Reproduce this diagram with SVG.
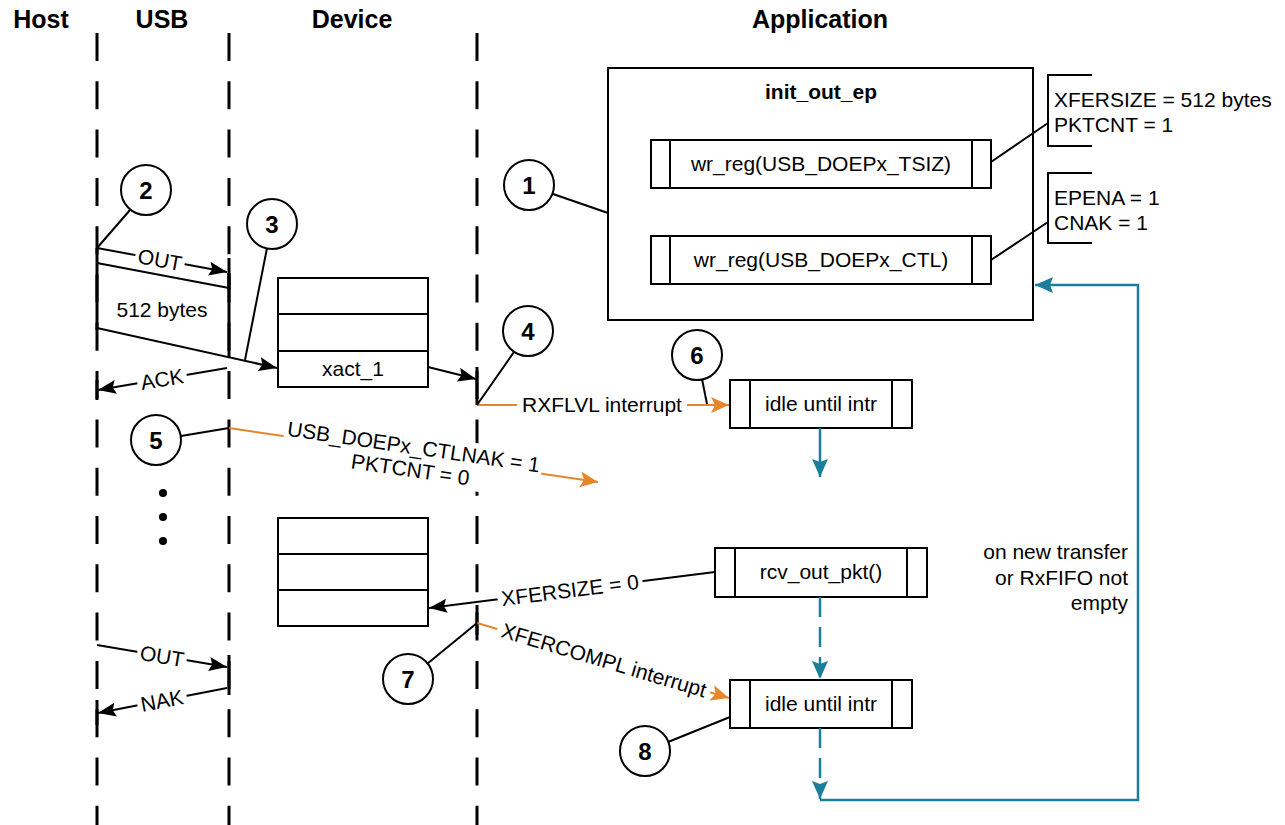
<svg xmlns="http://www.w3.org/2000/svg" width="1285" height="825" viewBox="0 0 1285 825">
<style>
text{font-family:"Liberation Sans",Arial,sans-serif;fill:#000}
.hdr{font-size:25px;font-weight:bold;text-anchor:middle}
.num{font-size:24px;font-weight:bold;text-anchor:middle}
.t{font-size:21px}
.c{text-anchor:middle}
.life{stroke:#000;stroke-width:3;stroke-dasharray:28 20.3;fill:none}
.solid{stroke:#000;stroke-width:3;fill:none}
.box{fill:#fff;stroke:#000;stroke-width:2}
.ln{stroke:#000;stroke-width:2;fill:none}
.or{stroke:#e5862c;stroke-width:2;fill:none}
.tl{stroke:#1a7f9a;stroke-width:2.5;fill:none}
.dash{stroke-dasharray:20 10}
.circ{fill:#fff;stroke:#000;stroke-width:2}
.bg{fill:#fff}
</style>
<defs>
<marker id="ab" markerUnits="userSpaceOnUse" markerWidth="19" markerHeight="15" refX="18" refY="7" orient="auto"><path d="M0,0 L18,7 L0,14 L3,7 z" fill="#000"/></marker>
<marker id="ao" markerUnits="userSpaceOnUse" markerWidth="19" markerHeight="17" refX="18" refY="8" orient="auto"><path d="M0,0 L18,8 L0,16 L4,8 z" fill="#e5862c"/></marker>
<marker id="at" markerUnits="userSpaceOnUse" markerWidth="19" markerHeight="17" refX="18" refY="8" orient="auto"><path d="M0,0 L18,8 L0,16 L3,8 z" fill="#1a7f9a"/></marker>
</defs>
<rect width="1285" height="825" fill="#fff"/>

<g id="headers">
<text class="hdr" x="41" y="28">Host</text>
<text class="hdr" x="162" y="28">USB</text>
<text class="hdr" x="352" y="28">Device</text>
<text class="hdr" x="820" y="28">Application</text>
</g>

<g id="lifelines">
<line class="life" x1="97" y1="33" x2="97" y2="825"/>
<line class="life" x1="229" y1="33" x2="229" y2="825"/>
<line class="life" x1="477" y1="33" x2="477" y2="825"/>
<line class="solid" x1="97" y1="380" x2="97" y2="400"/>
<line class="solid" x1="97" y1="700" x2="97" y2="725"/>
<line class="solid" x1="229" y1="258" x2="229" y2="290"/>
<line class="solid" x1="229" y1="655" x2="229" y2="695"/>
<line class="solid" x1="477" y1="367" x2="477" y2="405"/>
<line class="solid" x1="477" y1="605" x2="477" y2="635"/>
</g>

<g id="init_out_ep">
<rect class="box" x="608" y="68" width="425" height="252"/>
<text class="t c" x="821" y="99" font-weight="bold">init_out_ep</text>
</g>
<g id="wr_tsiz">
<rect class="box" x="651" y="140" width="340" height="48"/>
<line class="ln" x1="670" y1="140" x2="670" y2="188"/>
<line class="ln" x1="972" y1="140" x2="972" y2="188"/>
<text class="t c" x="821" y="171">wr_reg(USB_DOEPx_TSIZ)</text>
</g>
<g id="wr_ctl">
<rect class="box" x="651" y="236" width="340" height="48"/>
<line class="ln" x1="670" y1="236" x2="670" y2="284"/>
<line class="ln" x1="972" y1="236" x2="972" y2="284"/>
<text class="t c" x="821" y="267">wr_reg(USB_DOEPx_CTL)</text>
</g>
<g id="note_tsiz">
<path class="ln" d="M1092,75 H1048 V146 H1092"/>
<text class="t" x="1054" y="107">XFERSIZE = 512 bytes</text>
<text class="t" x="1054" y="132">PKTCNT = 1</text>
</g>
<g id="note_ctl">
<path class="ln" d="M1092,173 H1048 V243 H1092"/>
<text class="t" x="1054" y="205">EPENA = 1</text>
<text class="t" x="1054" y="230">CNAK = 1</text>
</g>

<g id="fifo1">
<rect class="box" x="278" y="278" width="150" height="109"/>
<line class="ln" x1="278" y1="314" x2="428" y2="314"/>
<line class="ln" x1="278" y1="351" x2="428" y2="351"/>
<text class="t c" x="353" y="376">xact_1</text>
</g>
<g id="fifo2">
<rect class="box" x="278" y="518" width="150" height="108"/>
<line class="ln" x1="278" y1="554" x2="428" y2="554"/>
<line class="ln" x1="278" y1="590" x2="428" y2="590"/>
</g>

<g id="idle1">
<rect class="box" x="730" y="380" width="182" height="48"/>
<line class="ln" x1="750" y1="380" x2="750" y2="428"/>
<line class="ln" x1="892" y1="380" x2="892" y2="428"/>
<text class="t c" x="821" y="411">idle until intr</text>
</g>
<g id="rcv">
<rect class="box" x="715" y="548" width="212" height="49"/>
<line class="ln" x1="735" y1="548" x2="735" y2="597"/>
<line class="ln" x1="907" y1="548" x2="907" y2="597"/>
<text class="t c" x="821" y="579">rcv_out_pkt()</text>
</g>
<g id="idle2">
<rect class="box" x="730" y="680" width="182" height="48"/>
<line class="ln" x1="750" y1="680" x2="750" y2="728"/>
<line class="ln" x1="892" y1="680" x2="892" y2="728"/>
<text class="t c" x="821" y="711">idle until intr</text>
</g>

<g id="packet">
<path class="ln" d="M97,263 L229,288 M97,263 V328 M229,288 V357"/>
<line class="solid" x1="97" y1="248" x2="97" y2="330"/>
<line class="solid" x1="229" y1="273" x2="229" y2="358"/>
<text class="t c" x="162" y="317">512 bytes</text>
</g>

<g id="connectors">
<line class="ln" x1="97" y1="248" x2="227" y2="272" marker-end="url(#ab)"/>
<g transform="translate(160,259.6) rotate(10.5)"><rect class="bg" x="-25" y="-11" width="50" height="22"/><text class="t c" y="7.5">OUT</text></g>
<line class="ln" x1="97" y1="328" x2="277" y2="368" marker-end="url(#ab)"/>
<line class="ln" x1="428" y1="367" x2="476" y2="379" marker-end="url(#ab)"/>
<line class="ln" x1="227" y1="368" x2="98" y2="390" marker-end="url(#ab)"/>
<g transform="translate(162,379) rotate(-9.6)"><rect class="bg" x="-25" y="-11" width="50" height="22"/><text class="t c" y="7.5">ACK</text></g>

<line class="or" x1="477" y1="405" x2="729" y2="405" marker-end="url(#ao)"/>
<rect class="bg" x="517" y="393" width="170" height="24"/>
<text class="t c" x="602" y="412">RXFLVL interrupt</text>

<line class="tl" x1="820" y1="428" x2="820" y2="477" marker-end="url(#at)"/>

<line class="or" x1="229" y1="428" x2="598" y2="482" marker-end="url(#ao)"/>
<g transform="translate(412,458) rotate(8.28)"><rect class="bg" x="-130" y="-24" width="260" height="48"/>
<text class="t c" y="-4">USB_DOEPx_CTLNAK = 1</text>
<text class="t c" y="19">PKTCNT = 0</text></g>

<line class="ln" x1="715" y1="572" x2="429" y2="608" marker-end="url(#ab)"/>
<g transform="translate(570,590) rotate(-7.15)"><rect class="bg" x="-73" y="-12" width="146" height="24"/><text class="t c" y="7.5">XFERSIZE = 0</text></g>

<line class="or" x1="477" y1="623" x2="729" y2="698" marker-end="url(#ao)"/>
<g transform="translate(604,660) rotate(16.6)"><rect class="bg" x="-111" y="-12" width="222" height="24"/><text class="t c" y="7.5">XFERCOMPL interrupt</text></g>

<line class="tl dash" x1="820" y1="597" x2="820" y2="679" marker-end="url(#at)"/>
<line class="tl dash" x1="820" y1="728" x2="820" y2="799" marker-end="url(#at)"/>
<path class="tl" d="M820,800 H1138 V285 H1035" marker-end="url(#at)"/>

<line class="ln" x1="97" y1="645" x2="227" y2="667" marker-end="url(#ab)"/>
<g transform="translate(162,656) rotate(9.6)"><rect class="bg" x="-25" y="-11" width="50" height="22"/><text class="t c" y="7.5">OUT</text></g>
<line class="ln" x1="227" y1="688" x2="98" y2="713" marker-end="url(#ab)"/>
<g transform="translate(162,700.5) rotate(-10.9)"><rect class="bg" x="-25" y="-11" width="50" height="22"/><text class="t c" y="7.5">NAK</text></g>

<line class="ln" x1="991" y1="162" x2="1048" y2="123"/>
<line class="ln" x1="991" y1="260" x2="1048" y2="222"/>

<line class="ln" x1="553" y1="194" x2="608" y2="213"/>
<line class="ln" x1="130" y1="210" x2="97" y2="248"/>
<line class="ln" x1="267" y1="248" x2="245" y2="360"/>
<line class="ln" x1="514" y1="352" x2="477" y2="405"/>
<line class="ln" x1="181" y1="436" x2="229" y2="428"/>
<line class="ln" x1="702" y1="379" x2="707" y2="404"/>
<line class="ln" x1="427" y1="664" x2="477" y2="623"/>
<line class="ln" x1="668" y1="742" x2="730" y2="717"/>

<text class="t" x="1128" y="559" text-anchor="end">on new transfer</text>
<text class="t" x="1128" y="585" text-anchor="end">or RxFIFO not</text>
<text class="t" x="1128" y="610" text-anchor="end">empty</text>
</g>

<g id="ellipsis">
<circle cx="163" cy="493" r="4"/>
<circle cx="163" cy="517" r="4"/>
<circle cx="163" cy="541" r="4"/>
</g>

<g id="step1"><circle class="circ" cx="529" cy="185" r="25"/><text class="num" x="529" y="193.5">1</text></g>
<g id="step2"><circle class="circ" cx="146" cy="190" r="25"/><text class="num" x="146" y="198.5">2</text></g>
<g id="step3"><circle class="circ" cx="272" cy="224" r="25"/><text class="num" x="272" y="232.5">3</text></g>
<g id="step4"><circle class="circ" cx="528" cy="331" r="25"/><text class="num" x="528" y="339.5">4</text></g>
<g id="step5"><circle class="circ" cx="156" cy="440" r="25"/><text class="num" x="156" y="448.5">5</text></g>
<g id="step6"><circle class="circ" cx="697" cy="355" r="25"/><text class="num" x="697" y="363.5">6</text></g>
<g id="step7"><circle class="circ" cx="408" cy="679" r="25"/><text class="num" x="408" y="687.5">7</text></g>
<g id="step8"><circle class="circ" cx="645" cy="751" r="25"/><text class="num" x="645" y="759.5">8</text></g>
</svg>
